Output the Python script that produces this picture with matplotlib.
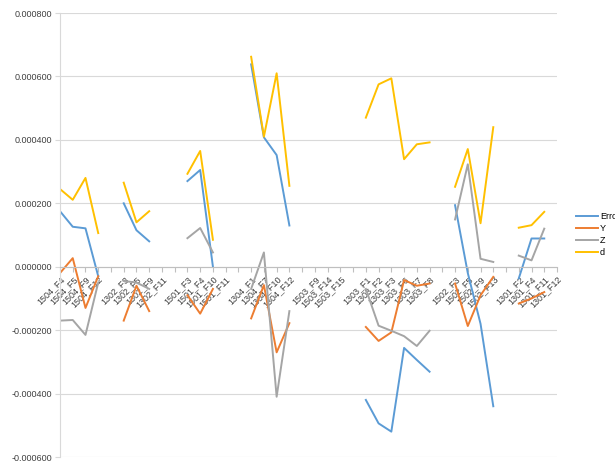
import numpy as np
import matplotlib
matplotlib.use("Agg")
import matplotlib.pyplot as plt

nan = np.nan

categories = [
    "1504_F4", "1504_F5", "1504_F9", "1504_F12", "",
    "1302_F3", "1302_F5", "1302_F9", "1302_F11", "",
    "1501_F3", "1501_F4", "1501_F10", "1501_F11", "",
    "1304_F1", "1304_F7", "1304_F10", "1304_F12", "",
    "1503_F9", "1503_F14", "1503_F15", "",
    "1303_F1", "1303_F2", "1303_F3", "1303_F6", "1303_F7", "1303_F8", "",
    "1502_F3", "1502_F5", "1502_F9", "1502_F13", "",
    "1301_F2", "1301_F4", "1301_F11", "1301_F12",
]

error = [
    0.000175, 0.000126, 0.000121, -0.00003, nan,
    0.000200, 0.000115, 0.000080, nan, nan,
    0.000270, 0.000305, 0.000000, nan, nan,
    0.000638, 0.000408, 0.000352, 0.000130, nan,
    nan, nan, nan, nan,
    -0.000420, -0.000494, -0.000520, -0.000256, -0.000294, -0.000331, nan,
    0.000194, -0.000020, -0.000180, -0.000440, nan,
    -0.000037, 0.000089, 0.000089, nan,
]

y_vals = [
    -0.000020, 0.000027, -0.000130, -0.000030, nan,
    -0.000170, -0.000060, -0.000140, nan, nan,
    -0.000090, -0.000148, -0.000070, nan, nan,
    -0.000163, -0.000058, -0.000270, -0.000178, nan,
    nan, nan, nan, nan,
    -0.000190, -0.000234, -0.000207, -0.000042, -0.000060, -0.000053, nan,
    -0.000053, -0.000187, -0.000090, -0.000032, nan,
    -0.000116, -0.000100, -0.000080, nan,
]

z_vals = [
    -0.000170, -0.000168, -0.000215, -0.000050, nan,
    -0.000045, -0.000050, -0.000070, nan, nan,
    0.000090, 0.000122, 0.000045, nan, nan,
    -0.000070, 0.000045, -0.000410, -0.000140, nan,
    nan, nan, nan, nan,
    -0.000070, -0.000186, -0.000202, -0.000219, -0.000250, -0.000202, nan,
    0.000149, 0.000323, 0.000025, 0.000015, nan,
    0.000035, 0.000020, 0.000120, nan,
]

d_vals = [
    0.000245, 0.000211, 0.000280, 0.000106, nan,
    0.000265, 0.000140, 0.000175, nan, nan,
    0.000293, 0.000365, 0.000085, nan, nan,
    0.000662, 0.000410, 0.000610, 0.000255, nan,
    nan, nan, nan, nan,
    0.000470, 0.000575, 0.000594, 0.000339, 0.000386, 0.000392, nan,
    0.000252, 0.000371, 0.000137, 0.000440, nan,
    0.000123, 0.000131, 0.000173, nan,
]

series = [
    ("Error", error, "#5B9BD5"),
    ("Y", y_vals, "#ED7D31"),
    ("Z", z_vals, "#A5A5A5"),
    ("d", d_vals, "#FFC000"),
]

plt.rcParams["font.family"] = ["Liberation Sans", "DejaVu Sans"]

fig = plt.figure(figsize=(6.15, 4.65), dpi=100)
ax = fig.add_axes([60 / 615, 1 - 457 / 465, (557 - 60) / 615, (457 - 13) / 465])

# category axis sits on the zero line
for side in ("top", "right"):
    ax.spines[side].set_visible(False)
ax.spines["bottom"].set_position(("data", 0))
ax.spines["bottom"].set_color("#bfbfbf")
ax.spines["left"].set_color("#d9d9d9")

x = np.arange(len(categories))
for name, vals, color in series:
    ax.plot(x, vals, color=color, lw=1.4, label=name)

ax.set_xlim(0, len(categories) - 1)
ax.set_ylim(-0.0006, 0.0008)
yticks = np.arange(-0.0006, 0.00081, 0.0002)
ax.set_yticks(yticks)
ax.set_yticklabels([f"{v:.6f}" for v in yticks], fontsize=6.5, color="#404040")
ax.yaxis.grid(True, color="#d9d9d9", lw=0.8)
ax.set_axisbelow(True)

ax.set_xticks(x)
ax.set_xticklabels(categories, fontsize=6.5, color="#404040",
                   rotation=45, ha="right", va="top", rotation_mode="anchor")

ax.tick_params(axis="x", length=3.5, color="#bfbfbf", pad=2)
ax.tick_params(axis="y", length=3.5, color="#d9d9d9", pad=2)

fig.legend(loc="center left", bbox_to_anchor=(576 / 615, 1 - 234.5 / 465),
           frameon=False, fontsize=6.5, borderpad=0, handlelength=2.4,
           handletextpad=0.25, labelspacing=0.35, borderaxespad=0)

fig.savefig("out.png", dpi=100)
